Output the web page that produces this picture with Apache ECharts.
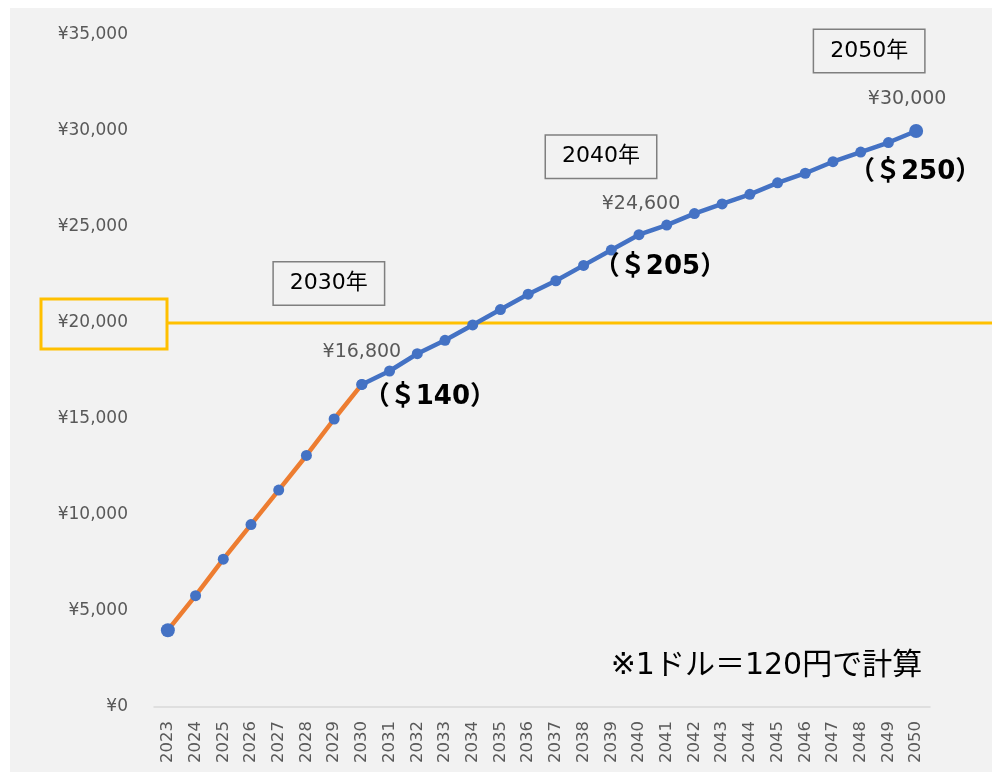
<!DOCTYPE html>
<html>
<head>
<meta charset="utf-8">
<script src="https://cdn.jsdelivr.net/npm/echarts@6/dist/echarts.min.js"></script>
<style>
  html, body { margin: 0; padding: 0; background: #ffffff; }
  #chart { width: 992px; height: 772px; }
</style>
</head>
<body>
<div id="chart"></div>
<script>
// Years on the category axis
const years = ['2023','2024','2025','2026','2027','2028','2029','2030','2031','2032','2033','2034','2035','2036','2037','2038','2039','2040','2041','2042','2043','2044','2045','2046','2047','2048','2049','2050'];

// Price in yen per year
const prices = [4000, 5800, 7700, 9500, 11300, 13100, 15000, 16800, 17500, 18400, 19100, 19900, 20700, 21500, 22200, 23000, 23800, 24600, 25100, 25700, 26200, 26700, 27300, 27800, 28400, 28900, 29400, 30000];

// Years drawn in orange (to 2030) and in blue (from 2030)
const splitYear = '2030';

// Years that get a value callout and a year box
const calloutYears = ['2030', '2040', '2050'];

// Exchange rate used for the dollar callouts
const yenPerDollar = 120;

// Reference level drawn in yellow
const refLevel = 20000;

// Y axis ticks
const yMin = 0, yMax = 35000, yStep = 5000;

const noteText = '※1ドル＝120円で計算';

const splitIdx = years.indexOf(splitYear);
const earlyData = prices.map((v, i) => i <= splitIdx ? v : null);
const lateData = prices.map((v, i) => i >= splitIdx ? v : null);

const fmtYen = v => '¥' + v.toLocaleString('en-US');

const BLUE = '#4472c4', ORANGE = '#ed7d31', YELLOW = '#ffc000';
const FONT = '"DejaVu Sans", "Noto Sans CJK JP", sans-serif';

// Callout offsets (yen label, dollar label, year box) relative to each point
const calloutStyle = {
  '2030': { yen: [0, -32], usd: [68, 13], box: [-33, -101] },
  '2040': { yen: [2, -31], usd: [21, 33], box: [-38, -78] },
  '2050': { yen: [-9, -32], usd: [-1, 41], box: [-47, -80] }
};

const markData = [];
calloutYears.forEach(y => {
  const v = prices[years.indexOf(y)];
  const s = calloutStyle[y];
  markData.push({
    coord: [y, v], value: fmtYen(v),
    label: { offset: s.yen, formatter: fmtYen(v), color: '#595959', fontSize: 19, fontFamily: FONT }
  });
  markData.push({
    coord: [y, v], value: v / yenPerDollar,
    label: { offset: s.usd, formatter: '（＄' + (v / yenPerDollar) + '）', color: '#000000', fontSize: 26, fontWeight: 'bold', fontFamily: FONT }
  });
  markData.push({
    coord: [y, v], value: y,
    label: {
      offset: s.box, formatter: y + '年', color: '#000000', fontSize: 22, fontFamily: FONT,
      backgroundColor: '#f2f2f2', borderColor: '#7f7f7f', borderWidth: 1.5,
      padding: [10, 16, 10, 16]
    }
  });
});

const chart = echarts.init(document.getElementById('chart'));

const option = {
  backgroundColor: '#ffffff',
  animation: false,
  grid: { left: 154, right: 62, top: 35, bottom: 65, containLabel: false },
  xAxis: {
    type: 'category',
    data: years,
    boundaryGap: true,
    axisLine: { show: true, lineStyle: { color: '#d9d9d9', width: 1.5 } },
    axisTick: { show: false },
    axisLabel: { rotate: 90, interval: 0, color: '#595959', fontSize: 16.5, fontFamily: FONT, margin: 14 }
  },
  yAxis: {
    type: 'value',
    min: yMin, max: yMax, interval: yStep,
    axisLine: { show: false },
    axisTick: { show: false },
    splitLine: { show: false },
    axisLabel: { formatter: v => fmtYen(v), color: '#595959', fontSize: 17, fontFamily: FONT, margin: 26 }
  },
  series: [
    {
      type: 'line',
      data: earlyData,
      connectNulls: false,
      symbol: 'circle',
      symbolSize: (v, p) => p.dataIndex === 0 ? 14 : 11,
      lineStyle: { color: ORANGE, width: 4.5 },
      itemStyle: { color: BLUE },
      z: 2
    },
    {
      type: 'line',
      data: lateData,
      connectNulls: false,
      symbol: 'circle',
      symbolSize: (v, p) => p.dataIndex === years.length - 1 ? 14 : 11,
      lineStyle: { color: BLUE, width: 4.5 },
      itemStyle: { color: BLUE },
      z: 3,
      markPoint: {
        symbol: 'circle', symbolSize: 0,
        label: { show: true, position: 'inside' },
        data: markData
      }
    }
  ]
};

chart.setOption(option);

// Background panel, reference level line with its boxed tick, and the note
function drawExtras() {
  const yRef = chart.convertToPixel({ yAxisIndex: 0 }, refLevel);
  const xFirst = chart.convertToPixel({ xAxisIndex: 0 }, years[0]);
  const xLast = chart.convertToPixel({ xAxisIndex: 0 }, years[years.length - 1]);
  chart.setOption({
    graphic: [
      { type: 'rect', z: -10, silent: true, shape: { x: 10, y: 8, width: 982, height: 764 }, style: { fill: '#f2f2f2' } },
      { type: 'line', z: 1, silent: true, shape: { x1: xFirst - 1, y1: yRef, x2: 992, y2: yRef }, style: { stroke: YELLOW, lineWidth: 3 } },
      { type: 'rect', z: 1, silent: true, shape: { x: 41, y: yRef - 24, width: 126, height: 50 }, style: { fill: 'none', stroke: YELLOW, lineWidth: 3 } },
      { type: 'text', z: 5, silent: true, x: xLast + 6, y: 666,
        style: { text: noteText, fill: '#000000', font: '30px ' + FONT, align: 'right', verticalAlign: 'middle' } }
    ]
  });
}
drawExtras();
</script>
</body>
</html>
